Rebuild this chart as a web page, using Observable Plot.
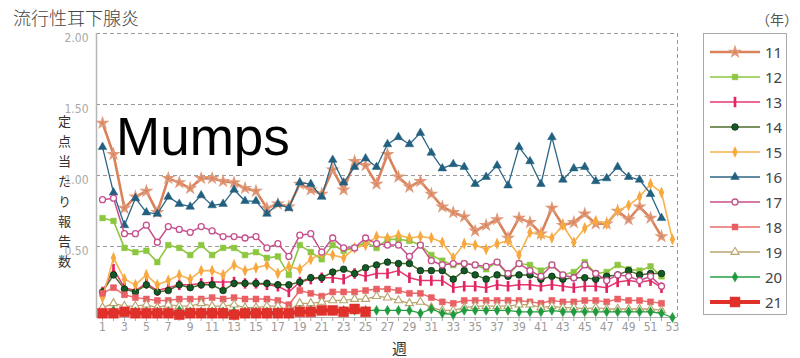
<!DOCTYPE html>
<html><head><meta charset="utf-8">
<script src="https://cdn.jsdelivr.net/npm/d3@7"></script>
<script src="https://cdn.jsdelivr.net/npm/@observablehq/plot@0.6"></script>
<style>
body{margin:0;background:#fff;}
#wrap{position:relative;width:800px;height:358px;overflow:hidden;font-family:"Noto Sans CJK JP",sans-serif;background:#fff;}
#chart{position:absolute;left:0;top:0;}
.abs{position:absolute;white-space:nowrap;line-height:1;}
#legend{position:absolute;left:703px;top:33px;width:84px;height:282px;border:1px solid #aaa;box-sizing:border-box;}
.lrow{position:absolute;left:0;height:16px;}
.lrow svg{position:absolute;left:5px;top:0;}
.lrow span{position:absolute;left:61px;top:0;font-size:15px;color:#444;line-height:16px;font-family:"Noto Sans",sans-serif;}
</style></head><body>
<div id="wrap">
<div id="chart"></div>
<div class="abs" style="left:13px;top:8px;font-size:18px;color:#444;font-weight:300;">流行性耳下腺炎</div>
<div class="abs" style="left:756px;top:12px;font-size:14px;color:#555;">（年）</div>
<div class="abs" style="left:116px;top:110px;font-size:53px;color:#000;font-family:'Liberation Sans',Arial,sans-serif;">Mumps</div>
<div class="abs" style="left:58px;top:115px;font-size:13px;color:#333;writing-mode:vertical-rl;letter-spacing:7px;">定点当たり報告数</div>
<div class="abs" style="left:392px;top:340px;font-size:15px;color:#333;">週</div>
<div id="legend"></div>
</div>
<script>
// ---- data ----
const weeks = d3.range(1, 54);
const years = ["11","12","13","14","15","16","17","18","19","20","21"];
const yTicks = [0.5, 1.0, 1.5, 2.0];
const yTickLabels = ["0.50","1.00","1.50","2.00"];
const xTickLabels = d3.range(1, 54, 2);

const s11 = [1.37,1.15,0.77,0.85,0.89,0.74,0.98,0.95,0.91,0.98, 0.98,0.96,0.95,0.91,0.89,0.77,0.80,0.78,0.94,0.90, 0.87,1.04,0.90,1.10,1.07,0.94,1.15,0.99,0.92,0.96, 0.87,0.78,0.74,0.71,0.61,0.65,0.69,0.56,0.70,0.67, 0.59,0.77,0.65,0.67,0.73,0.66,0.66,0.75,0.69,0.78,0.70,0.57];
const s12 = [0.70,0.68,0.49,0.46,0.47,0.39,0.51,0.49,0.44,0.51, 0.44,0.49,0.49,0.44,0.46,0.42,0.43,0.30,0.51,0.46, 0.41,0.51,0.47,0.49,0.53,0.49,0.55,0.55,0.54,0.51, 0.44,0.40,0.37,0.38,0.37,0.34,0.39,0.30,0.38,0.37, 0.33,0.37,0.30,0.32,0.39,0.31,0.32,0.37,0.34,0.33,0.36,0.29];
const s13 = [0.18,0.34,0.21,0.19,0.24,0.19,0.21,0.23,0.23,0.24, 0.25,0.25,0.25,0.24,0.24,0.23,0.22,0.18,0.25,0.27, 0.28,0.28,0.27,0.31,0.29,0.31,0.31,0.33,0.28,0.26, 0.26,0.26,0.21,0.22,0.22,0.21,0.23,0.22,0.23,0.23, 0.22,0.23,0.22,0.21,0.22,0.22,0.21,0.25,0.26,0.25,0.26,0.21];
const s14 = [0.18,0.30,0.20,0.18,0.23,0.18,0.19,0.23,0.21,0.23, 0.23,0.19,0.24,0.24,0.24,0.24,0.23,0.23,0.25,0.28, 0.28,0.32,0.34,0.31,0.35,0.37,0.39,0.38,0.38,0.33, 0.33,0.33,0.27,0.33,0.30,0.27,0.30,0.29,0.30,0.30, 0.27,0.29,0.27,0.28,0.28,0.27,0.29,0.30,0.33,0.30,0.31,0.31];
const s15 = [0.14,0.42,0.27,0.23,0.30,0.23,0.26,0.30,0.27,0.33, 0.33,0.30,0.37,0.33,0.35,0.37,0.31,0.36,0.34,0.41, 0.45,0.44,0.42,0.49,0.51,0.57,0.56,0.58,0.56,0.57, 0.56,0.53,0.42,0.52,0.51,0.48,0.52,0.54,0.44,0.60, 0.58,0.56,0.65,0.53,0.63,0.68,0.66,0.75,0.79,0.85,0.94,0.88,0.55];
const s16 = [1.20,0.88,0.65,0.84,0.74,0.73,0.85,0.80,0.78,0.86, 0.79,0.80,0.90,0.82,0.82,0.73,0.80,0.77,0.95,0.94, 0.85,1.11,0.95,1.06,1.12,1.06,1.22,1.27,1.22,1.30, 1.16,1.05,1.08,1.06,0.94,0.99,1.07,0.93,1.20,1.10, 0.94,1.27,0.97,1.05,1.06,0.96,0.98,1.06,0.99,0.97,0.87,0.70];
const s17 = [0.83,0.84,0.59,0.59,0.65,0.53,0.64,0.62,0.60,0.64, 0.61,0.57,0.57,0.56,0.57,0.49,0.52,0.43,0.58,0.59, 0.46,0.56,0.49,0.49,0.56,0.52,0.51,0.51,0.43,0.51, 0.40,0.37,0.38,0.38,0.37,0.36,0.39,0.31,0.38,0.33, 0.29,0.37,0.30,0.28,0.37,0.31,0.26,0.30,0.29,0.26,0.29,0.22];
const s18 = [0.17,0.21,0.16,0.14,0.13,0.12,0.12,0.13,0.13,0.13, 0.14,0.13,0.14,0.13,0.13,0.13,0.12,0.09,0.19,0.17, 0.15,0.18,0.18,0.18,0.19,0.20,0.20,0.19,0.17,0.17, 0.14,0.11,0.10,0.12,0.12,0.12,0.12,0.12,0.12,0.11, 0.10,0.12,0.11,0.11,0.12,0.12,0.11,0.13,0.12,0.12,0.11,0.10];
const s19 = [0.07,0.10,0.08,0.08,0.09,0.07,0.09,0.08,0.08,0.10, 0.08,0.08,0.09,0.07,0.07,0.08,0.08,0.05,0.10,0.10, 0.11,0.12,0.12,0.13,0.13,0.15,0.14,0.12,0.10,0.11, 0.07,0.05,0.05,0.07,0.08,0.08,0.08,0.08,0.09,0.09, 0.07,0.08,0.07,0.07,0.06,0.07,0.06,0.06,0.06,0.06,0.06,0.05];
const s20 = [0.03,0.05,0.04,0.04,0.04,0.04,0.04,0.05,0.04,0.04, 0.04,0.04,0.04,0.04,0.04,0.04,0.04,0.03,0.05,0.05, 0.05,0.05,0.05,0.05,0.05,0.05,0.05,0.05,0.05,0.03, 0.06,0.03,0.02,0.05,0.05,0.05,0.05,0.05,0.04,0.04, 0.04,0.05,0.04,0.04,0.04,0.04,0.04,0.04,0.04,0.04,0.04,0.03,0.00];
const s21 = [0.03,0.03,0.04,0.03,0.03,0.03,0.03,0.02,0.03,0.03, 0.03,0.03,0.02,0.03,0.03,0.03,0.03,0.03,0.04,0.04, 0.05,0.05,0.04,0.06,0.04];

const seriesValues = {"11":s11,"12":s12,"13":s13,"14":s14,"15":s15,"16":s16,"17":s17,"18":s18,"19":s19,"20":s20,"21":s21};

// ---- styles ----
const bar = {draw(ctx, size){const s=Math.sqrt(size); ctx.rect(-s*0.18,-s*0.7,s*0.36,s*1.4);}};
const spindle = {draw(ctx, size){const s=Math.sqrt(size); ctx.moveTo(0,-s*0.75); ctx.lineTo(s*0.33,0); ctx.lineTo(0,s*0.75); ctx.lineTo(-s*0.33,0); ctx.closePath();}};
const style = {
  "11":{line:"#d9825b", w:2.6, sym:d3.symbolStar, r:3.0, fill:"#d9825b", stroke:"#e09a7a", sw:1.5},
  "12":{line:"#8dc63f", w:1.6, sym:d3.symbolSquare, r:3.2, fill:"#8dc63f", stroke:"#8dc63f", sw:0.5},
  "13":{line:"#e8366f", w:1.5, sym:bar, r:4.2, fill:"#e2245f", stroke:"none", sw:0},
  "14":{line:"#4e6e2c", w:1.5, sym:d3.symbolCircle, r:3.3, fill:"#145a26", stroke:"#0a2a10", sw:0.8},
  "15":{line:"#f7b24f", w:1.6, sym:spindle, r:4.6, fill:"#f7a83f", stroke:"none", sw:0},
  "16":{line:"#2b6585", w:1.3, sym:d3.symbolTriangle, r:3.2, fill:"#22607f", stroke:"#22607f", sw:0.5},
  "17":{line:"#c64f8e", w:1.5, sym:d3.symbolCircle, r:3.0, fill:"#ffffff", stroke:"#c64f8e", sw:1.3},
  "18":{line:"#ea6b6b", w:1.5, sym:d3.symbolSquare, r:3.4, fill:"#e95f63", stroke:"#e95f63", sw:0.5},
  "19":{line:"#b9a46e", w:1.3, sym:d3.symbolTriangle, r:3.0, fill:"#ffffff", stroke:"#b9a46e", sw:1.1},
  "20":{line:"#24a043", w:1.3, sym:d3.symbolDiamond, r:3.0, fill:"#1f9a3c", stroke:"#1f9a3c", sw:0.5},
  "21":{line:"#e0302a", w:4.2, sym:d3.symbolSquare, r:5.6, fill:"#e0302a", stroke:"#e0302a", sw:0.5}
};

const rows = years.flatMap(yr => seriesValues[yr].map((v, i) => ({year: yr, week: weeks[i], value: v})));
const xDomain = [0.45, 53.46];

const marks = [
  Plot.ruleY(yTicks, {stroke:"#9a9a9a", strokeDasharray:"4,3", strokeWidth:1}),
  Plot.ruleX([xDomain[1]], {stroke:"#9a9a9a", strokeDasharray:"4,3", strokeWidth:1}),
  Plot.ruleX([xDomain[0]], {stroke:"#b5b5b5", strokeWidth:1.5}),
  Plot.ruleY([0], {stroke:"#b5b5b5", strokeWidth:1}),
  Plot.axisY({ticks: yTicks, tickSize: 0, tickPadding: 8, tickFormat: (d) => yTickLabels[yTicks.indexOf(d)], fill:"#a8a8a8", fontSize: 12, dy: 5, label: null}),
  Plot.axisX({ticks: weeks, tickSize: 4, stroke:"#aaa", tickFormat: () => "", label: null}),
  Plot.axisX({ticks: xTickLabels, tickSize: 0, tickPadding: 5, fill:"#9a9a9a", fontSize: 12, tickFormat: d => String(d), label: null})
];
for (const yr of years) {
  const st = style[yr];
  const d = rows.filter(r => r.year === yr);
  marks.push(Plot.line(d, {x:"week", y:"value", stroke: st.line, strokeWidth: st.w, curve:"linear"}));
  marks.push(Plot.dot(d, {x:"week", y:"value", symbol: st.sym, r: st.r, fill: st.fill, stroke: st.stroke, strokeWidth: st.sw}));
}

const chart = Plot.plot({
  width: 800, height: 358,
  marginLeft: 96, marginRight: 123, marginTop: 33, marginBottom: 41,
  x: {domain: xDomain},
  y: {domain: [0, 2]},
  style: {fontFamily: "'Liberation Sans Narrow','DejaVu Sans Condensed','Liberation Sans',sans-serif", background: "transparent"},
  marks
});
document.getElementById("chart").appendChild(chart);

// ---- legend ----
const legend = d3.select("#legend");
years.forEach((yr, i) => {
  const st = style[yr];
  const row = legend.append("div").attr("class","lrow").style("top", (10 + i*25) + "px").style("width","84px");
  const svg = row.append("svg").attr("width", 52).attr("height", 16);
  svg.append("line").attr("x1",1).attr("x2",51).attr("y1",8).attr("y2",8).attr("stroke", st.line).attr("stroke-width", st.w);
  svg.append("path").attr("transform","translate(26,8)")
    .attr("d", d3.symbol(st.sym, Math.PI*st.r*st.r)())
    .attr("fill", st.fill).attr("stroke", st.stroke).attr("stroke-width", st.sw);
  row.append("span").text(yr);
});
</script>
</body></html>
